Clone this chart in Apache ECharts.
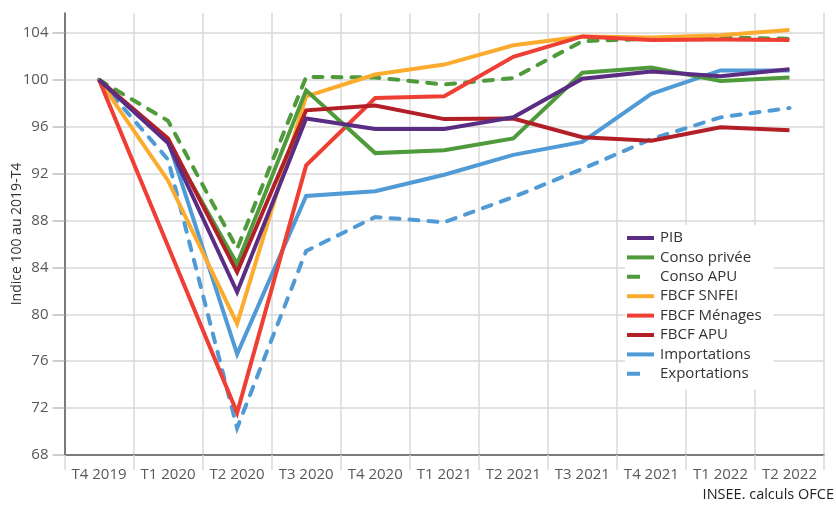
<!DOCTYPE html>
<html>
<head>
<meta charset="utf-8">
<script src="https://cdn.jsdelivr.net/npm/echarts@6/dist/echarts.min.js"></script>
<style>
html,body{margin:0;padding:0;background:#fff;}
#c{width:836px;height:506px;}
</style>
</head>
<body>
<div id="c"></div>
<script>
const categories = ['T4 2019','T1 2020','T2 2020','T3 2020','T4 2020','T1 2021','T2 2021','T3 2021','T4 2021','T1 2022','T2 2022'];
const yTicks = [68,72,76,80,84,88,92,96,100,104];

const pib          = [100, 94.6, 81.9, 96.7, 95.8, 95.8, 96.8, 100.1, 100.7, 100.3, 100.9];
const consoPrivee  = [100, 94.7, 84.3, 99.1, 93.75, 94.0, 95.0, 100.6, 101.05, 99.9, 100.2];
const consoAPU     = [100, 96.5, 85.6, 100.25, 100.2, 99.6, 100.15, 103.3, 103.5, 103.6, 103.5];
const fbcfSNFEI    = [100, 91.4, 79.2, 98.6, 100.45, 101.3, 102.95, 103.7, 103.6, 103.8, 104.25];
const fbcfMenages  = [100, 85.8, 71.6, 92.7, 98.45, 98.6, 101.96, 103.7, 103.4, 103.45, 103.4];
const fbcfAPU      = [100, 95.0, 83.6, 97.4, 97.8, 96.65, 96.7, 95.1, 94.8, 95.95, 95.7];
const importations = [100, 94.8, 76.6, 90.1, 90.5, 91.9, 93.6, 94.7, 98.8, 100.8, 100.8];
const exportations = [100, 93.2, 70.3, 85.4, 88.3, 87.85, 90.0, 92.4, 94.95, 96.8, 97.6];

const seriesDefs = [
  {name:'PIB', data:pib, color:'#5b2c83', dashed:false},
  {name:'Conso privée', data:consoPrivee, color:'#4f9b3c', dashed:false},
  {name:'Conso APU', data:consoAPU, color:'#4f9b3c', dashed:true},
  {name:'FBCF SNFEI', data:fbcfSNFEI, color:'#fbab2e', dashed:false},
  {name:'FBCF Ménages', data:fbcfMenages, color:'#ef3e33', dashed:false},
  {name:'FBCF APU', data:fbcfAPU, color:'#b21f27', dashed:false},
  {name:'Importations', data:importations, color:'#509ad5', dashed:false},
  {name:'Exportations', data:exportations, color:'#509ad5', dashed:true}
];
const drawOrder = ['Exportations','Importations','Conso APU','FBCF SNFEI','FBCF Ménages','Conso privée','FBCF APU','PIB'];

// legend icon shapes (27 x 4 boxes): a full bar, or one short dash on the left
const ICON_SOLID = 'rect';
const ICON_DASH  = 'path://M0,0H13V4H0ZM26.95,0H27V4H26.95Z';

const FONT = 'Open Sans';
const chart = echarts.init(document.getElementById('c'), null, {renderer:'canvas'});
const series = seriesDefs.map(s => ({
  name: s.name,
  type: 'line',
  data: s.data,
  symbol: 'none',
  smooth: false,
  z: 2 + drawOrder.indexOf(s.name),
  color: s.color,
  lineStyle: {
    color: s.color,
    width: 4,
    type: s.dashed ? [9, 10] : 'solid',
    cap: s.dashed ? 'round' : 'butt',
    join: 'miter'
  },
  emphasis: {disabled: true}
}));

const noBorder = {borderWidth: 0, borderColor: 'rgba(0,0,0,0)', borderType: 'solid'};

chart.setOption({
  animation: false,
  textStyle: {fontFamily: FONT},
  grid: {left: 64.5, right: 12, top: 13, bottom: 51, containLabel: false, outerBoundsMode: 'none'},
  legend: {
    orient: 'vertical',
    left: 625,
    top: 225,
    backgroundColor: '#ffffff',
    padding: [5.5, 12, 8, 2],
    itemWidth: 27,
    itemHeight: 4,
    itemGap: 4.4,
    itemStyle: noBorder,
    textStyle: {fontFamily: FONT, fontSize: 15, color: '#333333', padding: [0,0,0,1]},
    data: seriesDefs.map(s => ({
      name: s.name,
      icon: s.dashed ? ICON_DASH : ICON_SOLID,
      itemStyle: Object.assign({color: s.color}, noBorder),
      lineStyle: s.dashed ? {type: [11, 30], dashOffset: 0} : {type: 'solid'}
    }))
  },
  xAxis: {
    type: 'category',
    data: categories,
    boundaryGap: true,
    axisLine: {show: true, lineStyle: {color: '#595959', width: 1.5}},
    axisTick: {show: true, length: 15, interval: 0, lineStyle: {color: '#d9d9d9', width: 1.5}},
    splitLine: {show: true, interval: 0, lineStyle: {color: '#d9d9d9', width: 1.5}},
    axisLabel: {fontFamily: FONT, fontSize: 15, color: '#595959', margin: 12, interval: 0}
  },
  yAxis: {
    type: 'value',
    min: 68,
    max: 105.7,
    interval: 4,
    name: 'Indice 100 au 2019-T4',
    nameLocation: 'middle',
    nameGap: 40,
    nameMoveOverlap: false,
    nameTextStyle: {fontFamily: FONT, fontSize: 14, color: '#333333'},
    axisLine: {show: true, lineStyle: {color: '#595959', width: 1.5}},
    axisTick: {show: true, length: 12, lineStyle: {color: '#bfbfbf', width: 1.5}},
    splitLine: {show: true, showMaxLine: false, lineStyle: {color: '#d9d9d9', width: 1.5}},
    axisLabel: {fontFamily: FONT, fontSize: 15, color: '#595959', margin: 16, showMaxLabel: false,
      formatter: v => (yTicks.indexOf(v) >= 0 ? String(v) : '')}
  },
  graphic: [{
    type: 'text',
    right: 2,
    top: 487,
    style: {text: 'INSEE. calculs OFCE', fontFamily: FONT, fontSize: 14.5, fill: '#222222'}
  }],
  series: series
});
</script>
</body>
</html>
